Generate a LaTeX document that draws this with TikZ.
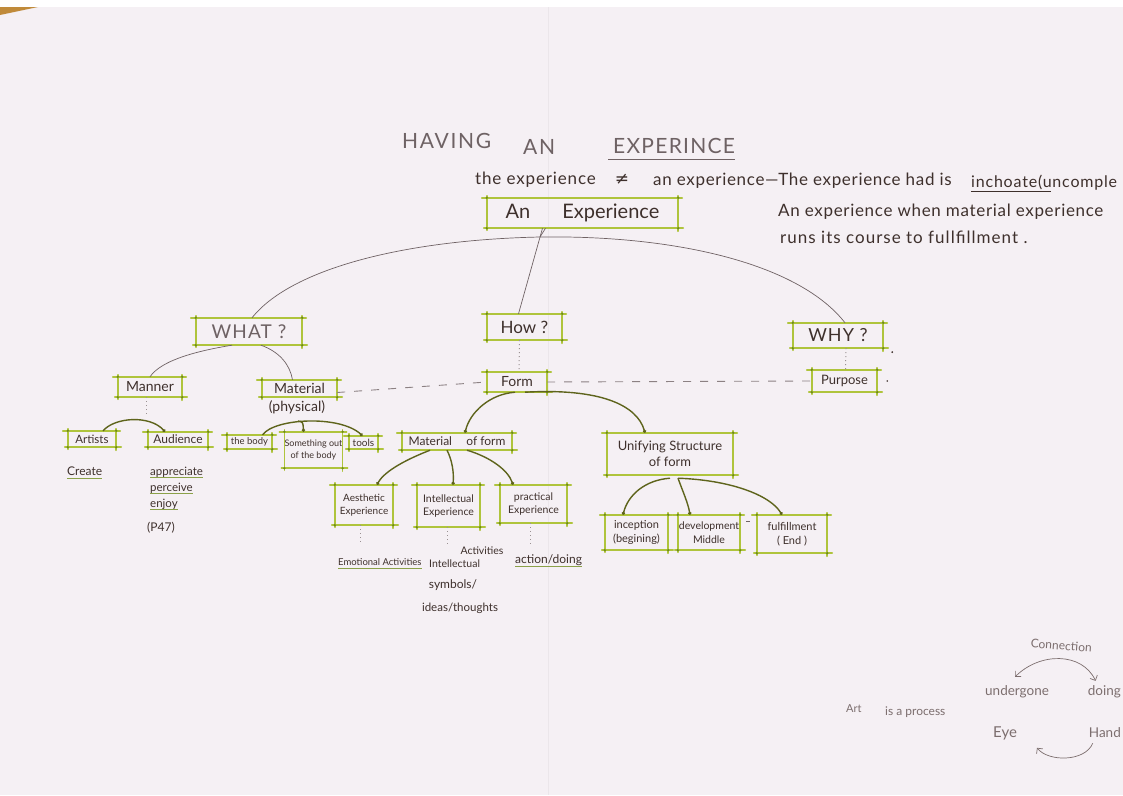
\documentclass[tikz,border=0pt]{standalone}
\usepackage{fontspec}
\setmainfont{Lato}
\newfontfamily\symfont{DejaVu Sans}
\usetikzlibrary{arrows.meta}

\definecolor{paper}{HTML}{F5F0F4}
\definecolor{ink}{HTML}{3E302C}
\definecolor{pencil}{HTML}{6E6264}
\definecolor{soft}{HTML}{7C6E6E}
\definecolor{hilite}{HTML}{AFC43C}
\definecolor{hldark}{HTML}{6E8A1C}
\definecolor{olive}{HTML}{5E641C}
\definecolor{greyline}{HTML}{6F6264}
\definecolor{tabletop}{HTML}{C08A3A}

\tikzset{
  lbl/.style={text=ink, inner sep=0pt, font=\fontsize{#1}{#1}\selectfont},
  lbl/.default=12,
  bx/.style={text=ink, inner sep=0pt, align=center},
  frame/.style={draw=hilite, line width=1.6pt, line cap=round},
  thinc/.style={draw=greyline, line width=0.7pt},
  branch/.style={draw=olive, line width=1.4pt, -{Circle[length=3.2pt]}},
  dotv/.style={draw=greyline!70, line width=1pt, dash pattern=on 1pt off 3pt},
  dashh/.style={draw=greyline!80, line width=0.9pt, dash pattern=on 8pt off 9pt},
  uline/.style={draw=hldark!80, line width=0.9pt},
  arc2/.style={draw=soft, line width=0.7pt}
}

% highlighted box: name, centre, width, height, font size, text
\newcommand\mkbox[6]{%
  \node[bx, font=\fontsize{#5}{\dimexpr #5pt+3pt\relax}\selectfont, minimum width=#3pt, minimum height=#4pt] (#1) at (#2) {#6};
  \draw[frame] ([xshift=-5pt]#1.north west) -- ([xshift=4pt]#1.north east);
  \draw[frame] ([xshift=-3pt]#1.south west) -- ([xshift=5pt]#1.south east);
  \draw[frame] ([yshift=2pt]#1.north west) -- ([yshift=-2pt]#1.south west);
  \draw[frame] ([yshift=2pt]#1.north east) -- ([yshift=-3pt]#1.south east);
  \foreach \c in {north west,north east,south west,south east}
    \fill[hldark] (#1.\c) circle (1.3pt);
}

\begin{document}
\begin{tikzpicture}[x=1pt,y=-1pt]
\useasboundingbox (0,0) rectangle (1123,795);
\clip (0,0) rectangle (1123,795);

% sheet of paper
\fill[paper] (0,0) rectangle (1123,795);
\draw[black, opacity=0.04, line width=1pt] (548,7) -- (548,795);
\fill[white] (0,0) rectangle (1123,7);
\fill[tabletop] (0,7) -- (38,7) -- (0,15) -- cycle;

% heading
\node[lbl=21, text=pencil, anchor=base west, font=\fontsize{21}{21}\selectfont\addfontfeatures{LetterSpace=8}] (h1) at (402,148) {HAVING};
\node[lbl=21, text=pencil, anchor=base west, font=\fontsize{21}{21}\selectfont\addfontfeatures{LetterSpace=8}] (h2) at (523,154) {AN};
\node[lbl=21, text=pencil, anchor=base west, font=\fontsize{21}{21}\selectfont\addfontfeatures{LetterSpace=6}] (h3) at (613,153) {EXPERINCE};
\draw[greyline, line width=0.8pt] (608,159) -- (735,159);

% notes under the heading
\node[lbl=17, anchor=base west, font=\fontsize{17}{17}\selectfont\addfontfeatures{LetterSpace=5}] (l2a) at (475,184) {the experience};
\node[lbl=17, anchor=base] (neq) at (622,184) {\symfont ≠};
\node[lbl=17, anchor=base west, font=\fontsize{17}{17}\selectfont\addfontfeatures{LetterSpace=4}] (l2b) at (653,185) {an experience—The experience had is};
\node[lbl=16, anchor=base west, font=\fontsize{16}{16}\selectfont\addfontfeatures{LetterSpace=5}] (l2c) at (971,187) {inchoate(uncomple};
\draw[ink, line width=0.8pt] ([yshift=-4pt]l2c.base west) -- ++(80,0);
\node[lbl=17, anchor=base west, font=\fontsize{17}{17}\selectfont\addfontfeatures{LetterSpace=4}] (l3) at (778,216) {An experience when material experience};
\node[lbl=17, anchor=base west, font=\fontsize{17}{17}\selectfont\addfontfeatures{LetterSpace=6}] (l4) at (780,243) {runs its course to fullfillment .};

% boxes
\mkbox{exp}{582.5,213}{191}{30}{20}{An\hspace{1.6em}Experience}
\mkbox{what}{249,331.5}{106}{27}{19}{\color{pencil}\addfontfeatures{LetterSpace=6}WHAT ?}
\mkbox{how}{524.5,327}{75}{26}{17}{How ?}
\mkbox{why}{838,335.5}{90}{25}{18}{\addfontfeatures{LetterSpace=6}WHY ?}
\mkbox{manner}{150,387}{64}{20}{14}{Manner}
\mkbox{material}{299.5,388.5}{75}{17}{14}{Material}
\mkbox{form}{517,382}{60}{20}{14}{Form}
\mkbox{purpose}{844.5,381}{65}{22}{13}{Purpose}
\mkbox{artists}{92,439}{48}{16}{11.5}{Artists}
\mkbox{audience}{178,439.5}{60}{15}{12}{Audience}
\mkbox{thebody}{249.5,442}{45}{14}{9.5}{the body}
\mkbox{something}{313.5,450}{53}{36}{9}{Something out\\of the body}
\mkbox{tools}{363.5,442.5}{29}{13}{10}{tools}
\mkbox{matform}{457,441.5}{110}{17}{12}{Material\hspace{1.2em}of form}
\mkbox{unify}{670,454}{126}{42}{13}{Unifying Structure\\of form}
\mkbox{aesth}{364,505}{58}{40}{10}{Aesthetic\\Experience}
\mkbox{intel}{448.5,506}{63}{42}{10.5}{Intellectual\\Experience}
\mkbox{pract}{533.5,504}{67}{38}{10.5}{practical\\Experience}
\mkbox{incep}{636.5,532.5}{63}{35}{11}{inception\\(begining)}
\mkbox{devel}{709,532.5}{62}{35}{10.5}{development\\Middle}
\mkbox{fulfil}{792,534}{70}{38}{11}{fulfillment\\( End )}

\node[lbl=14, anchor=base] (phys) at (297,411) {(physical)};

% small marks after WHY? and Purpose
\fill[ink] ([xshift=9pt,yshift=-4pt]why.south east) circle (1pt);
\fill[ink] ([xshift=10pt]purpose.east) circle (0.8pt);

% top level links
\coordinate (jn) at (540,237);
\draw[thinc] ([xshift=-37pt]exp.south) -- (jn);
\draw[thinc] (jn) .. controls (400,240) and (290,270) .. ([xshift=3pt]what.north);
\draw[thinc] (jn) .. controls (680,235) and (800,265) .. ([xshift=7pt]why.north);
\draw[thinc] ([xshift=-40pt]exp.south) -- ([xshift=-6pt]how.north);

\draw[thinc] ([xshift=-17pt]what.south) .. controls (190,352) and (160,362) .. (manner.north);
\draw[thinc] ([xshift=12pt]what.south) .. controls (280,352) and (290,365) .. ([xshift=-7pt]material.north);

% dotted and dashed links
\draw[dotv] ([xshift=-5pt]how.south) -- ([xshift=2pt]form.north);
\draw[dotv] ([xshift=8pt]why.south) -- ([xshift=1pt]purpose.north);
\coordinate (mannerend) at ([xshift=-4pt,yshift=-18pt]manner.south);
\draw[dotv] ([xshift=-4pt]manner.south) -- (mannerend);
\draw[dashh] ([yshift=-4pt]material.east) -- (form.west);
\draw[dashh] (form.east) -- (purpose.west);

% branches
\draw[branch] ([xshift=11pt]artists.north) .. controls (115,417) and (150,415) .. ([xshift=-13pt]audience.north);
\draw[branch] ([xshift=13pt]thebody.north) .. controls (275,418) and (340,415) .. ([xshift=-1pt]tools.north);
\coordinate (apex) at (298,421);
\draw[branch] (apex) .. controls (303,422) .. ([xshift=-10pt]something.north);

\draw[branch] ([xshift=-2pt]form.south) .. controls (490,394) and (470,412) .. ([xshift=8pt]matform.north);
\draw[branch] ([xshift=8pt]form.south) .. controls (600,388) and (637,405) .. ([xshift=-25pt]unify.north);

\draw[branch] ([xshift=-27pt]matform.south) .. controls (410,458) and (385,470) .. ([xshift=13pt]aesth.north);
\draw[branch] ([xshift=-10pt]matform.south) .. controls (452,460) and (454,472) .. ([xshift=4.5pt]intel.north);
\draw[branch] ([xshift=10pt]matform.south) .. controls (490,457) and (508,470) .. ([xshift=-20.5pt]pract.north);

\draw[branch] ([yshift=-3pt]unify.south) .. controls (645,480) and (628,495) .. ([xshift=-13.5pt]incep.north);
\draw[branch] ([xshift=8pt,yshift=-3pt]unify.south) .. controls (683,492) and (688,503) .. ([xshift=-19pt]devel.north);
\draw[branch] ([xshift=8pt,yshift=-3pt]unify.south) .. controls (730,480) and (770,495) .. ([xshift=-10pt]fulfil.north);

% dotted leads below the experience boxes
\coordinate (ae) at ([xshift=-4pt,yshift=-20pt]aesth.south);
\coordinate (ie) at ([xshift=-1.5pt,yshift=-20pt]intel.south);
\coordinate (pe) at ([xshift=-3.5pt,yshift=-22pt]pract.south);
\draw[dotv] ([xshift=-4pt]aesth.south) -- (ae);
\draw[dotv] ([xshift=-1.5pt]intel.south) -- (ie);
\draw[dotv] ([xshift=-3.5pt]pract.south) -- (pe);
\draw[greyline, line width=0.8pt] (746,521) -- (750,521);

% notes below the boxes
\node[lbl=12, anchor=base west] (create) at (67,475) {Create};
\draw[uline] ([yshift=-3pt]create.base west) -- ([yshift=-3pt]create.base east);
\node[lbl=11.5, anchor=base west] (appr) at (150,475) {appreciate};
\node[lbl=11.5, anchor=base west] (perc) at (150,491) {perceive};
\node[lbl=11.5, anchor=base west] (enj) at (150,507) {enjoy};
\node[lbl=12, anchor=base west] (p47) at (147,531) {(P47)};
\foreach \n in {appr,perc,enj}
  \draw[uline, line width=0.6pt] ([yshift=-2pt]\n.base west) -- ([yshift=-2pt]\n.base east);

\node[lbl=9.5, anchor=base west] (emo) at (338,565) {Emotional Activities};
\draw[uline] ([yshift=-3pt]emo.base west) -- ([yshift=-3pt]emo.base east);
\node[lbl=10.5, anchor=base] (act) at (482,554) {Activities};
\node[lbl=10.5, anchor=base west] (intl) at (429,567) {Intellectual};
\node[lbl=12, anchor=base] (sym) at (453,588) {symbols/};
\node[lbl=11.5, anchor=base] (ideas) at (460,611) {ideas/thoughts};
\node[lbl=12, anchor=base west] (actn) at (515,563) {action/doing};
\draw[uline] ([yshift=-3pt]actn.base west) -- ([yshift=-3pt]actn.base east);

% corner notes
\node[lbl=11, text=soft, anchor=base west] (art) at (846,712) {Art};
\node[lbl=12, text=soft, anchor=base west] (proc) at (885,715) {is a process};
\node[lbl=12, text=soft, anchor=base, rotate=-4] (conn) at (1061,650) {Connection};
\node[lbl=13.5, text=soft, anchor=base west] (und) at (985,695) {undergone};
\node[lbl=13.5, text=soft, anchor=base east] (doing) at (1121,695) {doing};
\node[lbl=15, text=soft, anchor=base west] (eye) at (993,737) {Eye};
\node[lbl=13.5, text=soft, anchor=base east] (hand) at (1121,737) {Hand};
\coordinate (c1) at ([xshift=30pt,yshift=8pt]und.north west);
\coordinate (c2) at ([xshift=8pt,yshift=4pt]doing.north west);
\draw[arc2, {Straight Barb[length=4pt]}-{Straight Barb[length=4pt]}] (c1) .. controls (1040,652) and (1082,652) .. (c2);
\coordinate (c3) at ([xshift=4pt,yshift=-6pt]hand.south west);
\coordinate (c4) at ([xshift=44pt,yshift=-8pt]eye.south west);
\draw[arc2, -{Straight Barb[length=4pt]}] (c3) .. controls (1085,762) and (1048,762) .. (c4);
\end{tikzpicture}
\end{document}
